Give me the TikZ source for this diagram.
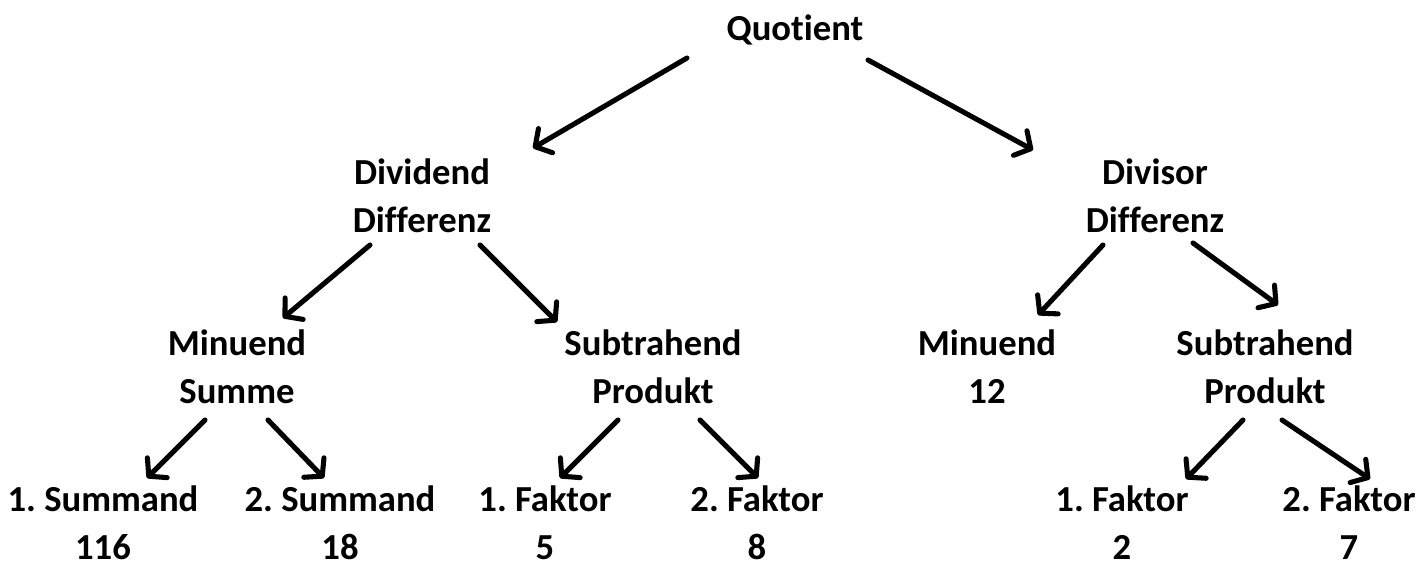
\documentclass[tikz,border=0pt]{standalone}
\usepackage{fontspec}
\setmainfont{Carlito}[Ligatures={CommonOff}]
\usetikzlibrary{arrows.meta,calc}
\frenchspacing

\tikzset{every picture/.style={line width=0.75pt}}
\tikzset{
  lbl/.style={inner sep=0pt, align=center, font=\fontsize{27.5}{36}\selectfont\bfseries},
  arr/.style={line width=3.8pt, line cap=round, -{Straight Barb[length=9pt,width=21pt,round]}}
}

\begin{document}
\begin{tikzpicture}[x=0.75pt,y=0.75pt,yscale=-1,xscale=1]
\useasboundingbox (0,0) rectangle (1418,570);

% Text Node
\node [lbl] (quot) at (795,30) {Quotient};
% Text Node
\node [lbl] (divd) at (422,196) {Dividend\\Differenz};
% Text Node
\node [lbl] (divs) at (1155,196) {Divisor\\Differenz};
% Text Node
\node [lbl] (mins) at (237,367) {Minuend\\Summe};
% Text Node
\node [lbl] (subl) at (653,367) {Subtrahend\\Produkt};
% Text Node
\node [lbl] (minr) at (987,367) {Minuend\\12};
% Text Node
\node [lbl] (subr) at (1265,367) {Subtrahend\\Produkt};
% Text Node
\node [lbl] (smda) at (103,523) {1. Summand\\116};
% Text Node
\node [lbl] (smdb) at (340,523) {2. Summand\\18};
% Text Node
\node [lbl] (fkla) at (545,523) {1. Faktor\\5};
% Text Node
\node [lbl] (fklb) at (757,523) {2. Faktor\\8};
% Text Node
\node [lbl] (fkra) at (1122,523) {1. Faktor\\2};
% Text Node
\node [lbl] (fkrb) at (1349,523) {2. Faktor\\7};

%Straight Lines
\draw [arr] ($(quot)+(-108,28)$) -- ($(divd)+(111,-48)$);
%Straight Lines
\draw [arr] ($(quot)+(73,30)$) -- ($(divs)+(-122,-46)$);
%Straight Lines
\draw [arr] ($(divd)+(-52,49)$) -- ($(mins)+(46,-49)$);
%Straight Lines
\draw [arr] ($(divd)+(58,49)$) -- ($(subl)+(-96,-45)$);
%Straight Lines
\draw [arr] ($(divs)+(-52,49)$) -- ($(minr)+(51,-52)$);
%Straight Lines
\draw [arr] ($(divs)+(38,47)$) -- ($(subr)+(13,-62)$);
%Straight Lines
\draw [arr] ($(mins)+(-32,53)$) -- ($(smda)+(44,-45)$);
%Straight Lines
\draw [arr] ($(mins)+(31,53)$) -- ($(smdb)+(-16,-45)$);
%Straight Lines
\draw [arr] ($(subl)+(-35,53)$) -- ($(fkla)+(15,-45)$);
%Straight Lines
\draw [arr] ($(subl)+(47,53)$) -- ($(fklb)+(1,-45)$);
%Straight Lines
\draw [arr] ($(subr)+(-22,53)$) -- ($(fkra)+(64,-44)$);
%Straight Lines
\draw [arr] ($(subr)+(17,53)$) -- ($(fkrb)+(21,-44)$);

\end{tikzpicture}
\end{document}
